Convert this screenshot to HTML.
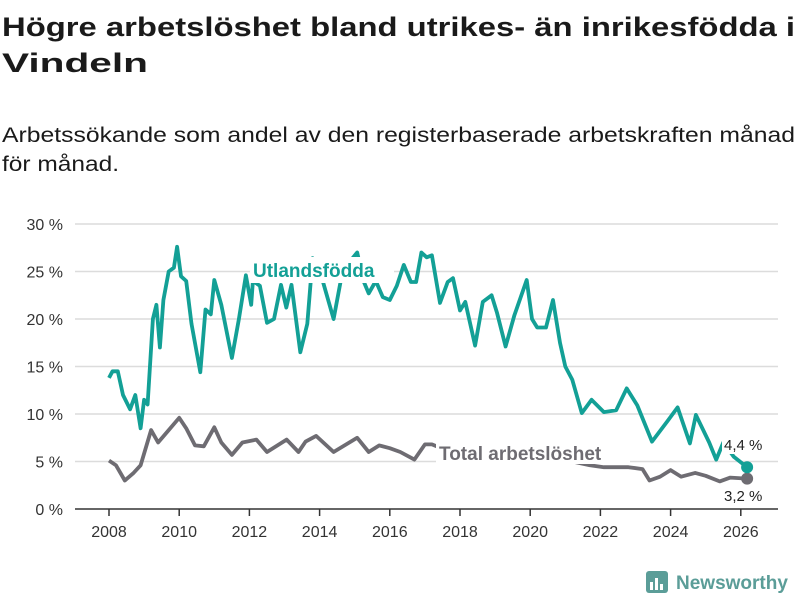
<!DOCTYPE html>
<html><head><meta charset="utf-8"><style>
html,body{margin:0;padding:0;background:#fff;}
svg{display:block;font-family:"Liberation Sans","DejaVu Sans",sans-serif;}
</style></head><body>
<svg id="chart" width="800" height="600" viewBox="0 0 800 600">
<text x="2" y="36" font-size="27" font-weight="bold" fill="#1a1a1a" textLength="793" lengthAdjust="spacingAndGlyphs">Högre arbetslöshet bland utrikes- än inrikesfödda i</text>
<text x="2" y="72" font-size="27" font-weight="bold" fill="#1a1a1a" textLength="146" lengthAdjust="spacingAndGlyphs">Vindeln</text>
<text x="2" y="142" font-size="21" fill="#1a1a1a" textLength="793" lengthAdjust="spacingAndGlyphs">Arbetssökande som andel av den registerbaserade arbetskraften månad</text>
<text x="2" y="171" font-size="21" fill="#1a1a1a" textLength="117" lengthAdjust="spacingAndGlyphs">för månad.</text>
<g id="grid"></g><g id="axes"></g><g id="lines"></g><g id="labels"></g>
<g>
<rect x="646" y="571" width="22" height="22" rx="3" fill="#5b9d98"/>
<rect x="650" y="582" width="3" height="8" fill="#fff"/><rect x="655" y="578" width="3" height="12" fill="#fff"/><rect x="660" y="584" width="3" height="6" fill="#fff"/>
<text x="676" y="589" font-size="19" font-weight="bold" fill="#5b9d98">Newsworthy</text>
</g>
</svg>
<script>
const yTicks=[0,5,10,15,20,25,30];
const xTicks=[2008,2010,2012,2014,2016,2018,2020,2022,2024,2026];
const utlDates=[2008.0,2008.1,2008.25,2008.4,2008.6,2008.75,2008.9,2009.0,2009.1,2009.25,2009.35,2009.45,2009.55,2009.7,2009.85,2009.94,2010.05,2010.2,2010.35,2010.6,2010.75,2010.9,2011.0,2011.2,2011.5,2011.7,2011.9,2012.05,2012.1,2012.3,2012.5,2012.7,2012.9,2013.05,2013.2,2013.45,2013.65,2013.8,2014.05,2014.4,2014.6,2014.85,2015.07,2015.25,2015.4,2015.6,2015.8,2016.0,2016.2,2016.4,2016.6,2016.75,2016.9,2017.05,2017.2,2017.43,2017.65,2017.8,2018.0,2018.15,2018.43,2018.65,2018.9,2019.05,2019.3,2019.55,2019.9,2020.05,2020.2,2020.45,2020.65,2020.85,2021.0,2021.2,2021.47,2021.75,2022.1,2022.45,2022.75,2023.05,2023.47,2023.9,2024.2,2024.55,2024.72,2025.1,2025.3,2025.5,2025.8,2026.18];
const utlValues=[13.8,14.5,14.5,12,10.5,12,8.5,11.5,11,20,21.5,17,22,25,25.4,27.6,24.5,24,19.5,14.4,21,20.5,24.1,21.5,15.9,20,24.6,21.5,24,23.5,19.6,20,23.6,21.2,23.6,16.5,19.5,26.4,24.5,20,24,26,27,24,22.7,24,22.3,22,23.5,25.7,23.9,23.9,27,26.5,26.7,21.7,23.9,24.3,20.9,21.8,17.2,21.8,22.5,20.7,17.1,20.4,24.1,20,19.1,19.1,22,17.5,15,13.6,10.1,11.5,10.2,10.4,12.7,10.9,7.1,9.2,10.7,6.9,9.9,7,5.2,7,5.5,4.4];
const totDates=[2008.0,2008.2,2008.45,2008.7,2008.9,2009.2,2009.4,2009.7,2010.0,2010.2,2010.45,2010.7,2011.0,2011.2,2011.5,2011.8,2012.2,2012.5,2013.06,2013.4,2013.6,2013.9,2014.4,2015.07,2015.4,2015.7,2016.0,2016.3,2016.7,2017.0,2017.2,2017.6,2018.0,2018.5,2019.0,2019.5,2020.0,2020.4,2020.8,2021.2,2021.7,2022.1,2022.8,2023.2,2023.4,2023.7,2024.0,2024.3,2024.7,2025.0,2025.4,2025.7,2026.18];
const totValues=[5.1,4.6,3.0,3.8,4.6,8.3,7,8.3,9.6,8.5,6.7,6.6,8.6,7,5.7,7,7.3,6,7.3,6,7.1,7.7,6,7.5,6,6.7,6.4,6,5.2,6.8,6.8,6.2,6,5.6,5.3,5,5.2,6.2,5.5,5,4.6,4.4,4.4,4.2,3.0,3.4,4.1,3.4,3.8,3.5,2.9,3.3,3.2];
const NS='http://www.w3.org/2000/svg';
const X0=109,PX=35.1,Y0=509,PY=9.5;
function xs(d){return X0+(d-2008)*PX;}
function ys(v){return Y0-v*PY;}
function mk(tag,attrs,parent,text){const e=document.createElementNS(NS,tag);for(const k in attrs)e.setAttribute(k,attrs[k]);if(text!==undefined)e.textContent=text;document.getElementById(parent).appendChild(e);return e;}
yTicks.forEach(t=>{
  if(t>0){const g=mk('line',{x1:75,x2:778,y1:ys(t),y2:ys(t),stroke:'#dcdcdc','stroke-width':1.5},'grid');
  
  }
  const l=mk('text',{x:63,y:ys(t)+6,'font-size':16,fill:'#333','text-anchor':'end'},'axes',t+' %');
  
  
});
const ax=mk('line',{x1:75,x2:778,y1:Y0,y2:Y0,stroke:'#333','stroke-width':1.5},'axes');


xTicks.forEach(t=>{
  const tk=mk('line',{x1:xs(t),x2:xs(t),y1:Y0,y2:Y0+7,stroke:'#333','stroke-width':1.5},'axes');
  
  
  const l=mk('text',{x:xs(t),y:537,'font-size':16,fill:'#333','text-anchor':'middle'},'axes',t);
  
  
});
function line(d,v,col,name){
  const p=d.map((x,i)=>(i?'L':'M')+xs(x).toFixed(1)+','+ys(v[i]).toFixed(1)).join('');
  const e=mk('path',{d:p,fill:'none',stroke:col,'stroke-width':3.8,'stroke-linejoin':'round'},'lines');
  
  
  const c=mk('circle',{cx:xs(d[d.length-1]),cy:ys(v[v.length-1]),r:6,fill:col},'lines');
  
  
}
line(totDates,totValues,'#6e6c72','total-line');
line(utlDates,utlValues,'#13a096','utlandsfodda-line');
const r1=mk('rect',{x:250,y:257,width:144,height:26,fill:'#fff'},'labels');


const t1=mk('text',{x:253,y:277,'font-size':19,'font-weight':'bold',fill:'#13a096'},'labels','Utlandsfödda');


const r2=mk('rect',{x:436,y:438,width:194,height:26,fill:'#fff'},'labels');


const t2=mk('text',{x:439,y:460,'font-size':19,'font-weight':'bold',fill:'#6e6c72'},'labels','Total arbetslöshet');


const r3=mk('rect',{x:722,y:434,width:48,height:20,fill:'#fff'},'labels');


const v1=mk('text',{x:724,y:450,'font-size':15,fill:'#222'},'labels','4,4 %');


const v2=mk('text',{x:724,y:501,'font-size':15,fill:'#222'},'labels','3,2 %');


</script>
</body></html>
